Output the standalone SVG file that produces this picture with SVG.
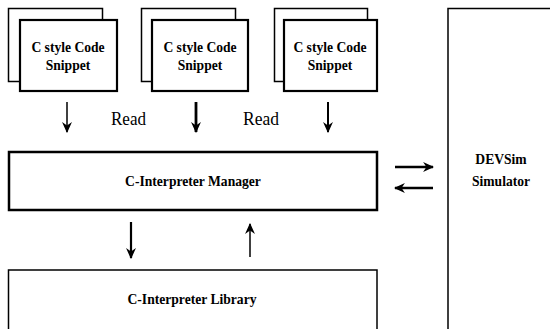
<svg xmlns="http://www.w3.org/2000/svg" width="550" height="329" viewBox="0 0 550 329">
<defs>
<style>
.box{fill:#fff;stroke:#000}
.lbl{font-family:"Liberation Serif","Times New Roman",serif;font-weight:bold;font-size:13.6px;text-anchor:middle;fill:#000}
.rd{font-family:"Liberation Serif","Times New Roman",serif;font-size:19px;fill:#000}
.ar{stroke:#000;fill:none}
</style>
<marker id="ah" markerUnits="userSpaceOnUse" markerWidth="11" markerHeight="11" viewBox="0 0 10 10" refX="9" refY="5" orient="auto">
<path d="M0,0.5 L10,5 L0,9.5 L3,5 Z" fill="#000"/>
</marker>
</defs>
<rect x="0" y="0" width="550" height="329" fill="#fff"/>
<g id="snippet1">
<rect class="box" x="8.5" y="8.5" width="94" height="73" stroke-width="1.5"/>
<rect class="box" x="20" y="20" width="97" height="71" stroke-width="2.2"/>
<text class="lbl" x="68" y="52">C style Code</text>
<text class="lbl" x="68" y="70">Snippet</text>
</g>
<g id="snippet2">
<rect class="box" x="141.5" y="8.5" width="94" height="73" stroke-width="1.5"/>
<rect class="box" x="152" y="20" width="96" height="71" stroke-width="2.2"/>
<text class="lbl" x="200" y="52">C style Code</text>
<text class="lbl" x="200" y="70">Snippet</text>
</g>
<g id="snippet3">
<rect class="box" x="274.5" y="8.5" width="93" height="73" stroke-width="1.5"/>
<rect class="box" x="284" y="20" width="93" height="71" stroke-width="2.2"/>
<text class="lbl" x="330" y="52">C style Code</text>
<text class="lbl" x="330" y="70">Snippet</text>
</g>
<g id="manager">
<rect class="box" x="9" y="152" width="368" height="58" stroke-width="2.5"/>
<text class="lbl" x="193" y="186">C-Interpreter Manager</text>
</g>
<g id="library">
<rect class="box" x="8.5" y="270" width="368.5" height="70" stroke-width="1.5"/>
<text class="lbl" x="192" y="304">C-Interpreter Library</text>
</g>
<g id="devsim">
<rect class="box" x="448" y="8.5" width="120" height="340" stroke-width="1.5"/>
<text class="lbl" x="501" y="164">DEVSim</text>
<text class="lbl" x="501" y="186">Simulator</text>
</g>
<g id="connectors">
<line class="ar" x1="67" y1="102" x2="67" y2="132" stroke-width="1.5" marker-end="url(#ah)"/>
<line class="ar" x1="196" y1="102" x2="196" y2="132" stroke-width="2.8" marker-end="url(#ah)"/>
<line class="ar" x1="328" y1="102" x2="328" y2="132" stroke-width="2" marker-end="url(#ah)"/>
<line class="ar" x1="131" y1="222" x2="131" y2="258" stroke-width="2.2" marker-end="url(#ah)"/>
<line class="ar" x1="250" y1="257" x2="250" y2="224" stroke-width="1.5" marker-end="url(#ah)"/>
<line class="ar" x1="395" y1="167" x2="433" y2="167" stroke-width="2.5" marker-end="url(#ah)"/>
<line class="ar" x1="433" y1="188" x2="395" y2="188" stroke-width="2.5" marker-end="url(#ah)"/>
<text class="rd" x="111" y="125" textLength="35" lengthAdjust="spacingAndGlyphs">Read</text>
<text class="rd" x="243" y="125" textLength="36" lengthAdjust="spacingAndGlyphs">Read</text>
</g>
</svg>
